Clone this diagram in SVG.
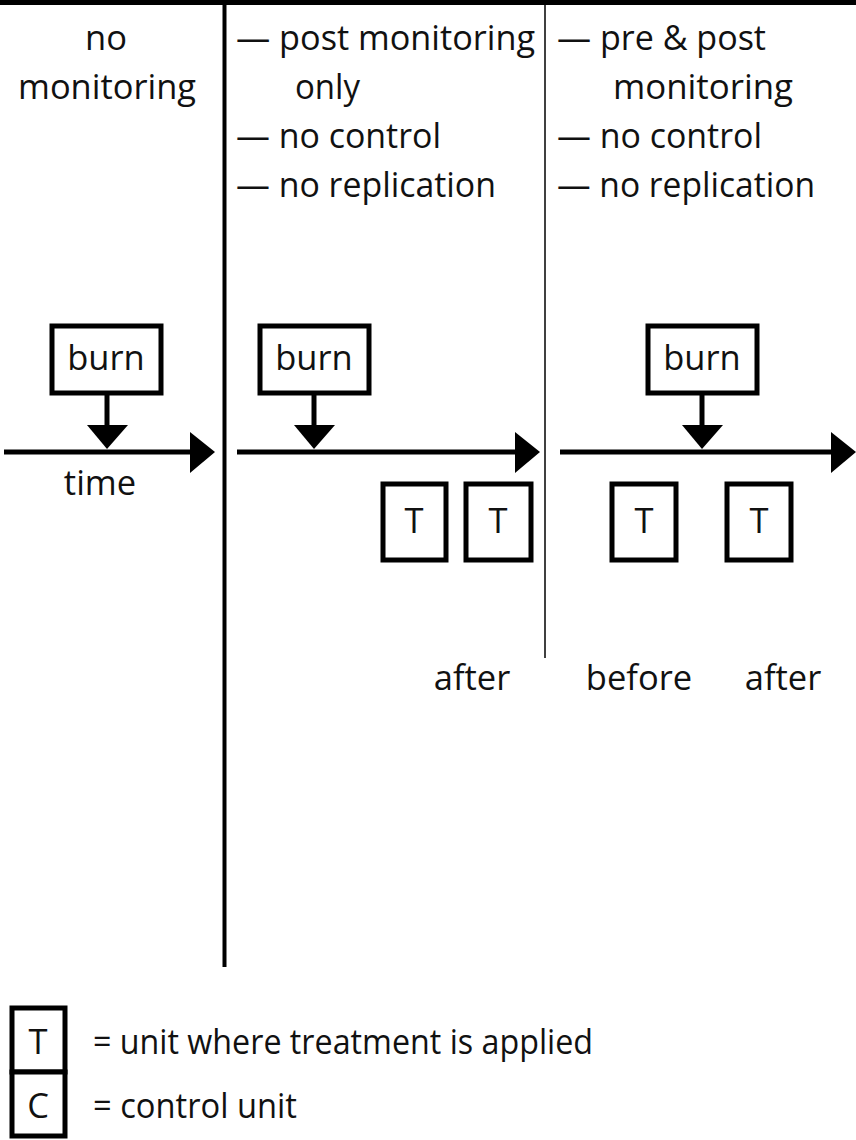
<svg xmlns="http://www.w3.org/2000/svg" width="856" height="1140" viewBox="0 0 856 1140">
  <style>
    .t { font-family: "Open Sans", "Liberation Sans", sans-serif; font-size: 34.5px; fill: #111; }
    .box { fill: #fff; stroke: #000; stroke-width: 5; }
    .axis { stroke: #000; stroke-width: 5; fill: none; }
    .head { fill: #000; }
  </style>
  <rect x="0" y="0" width="856" height="1140" fill="#fff"/>
  <!-- top rule and column dividers -->
  <rect x="0" y="0" width="856" height="5" fill="#000"/>
  <line x1="224.5" y1="0" x2="224.5" y2="967" stroke="#000" stroke-width="4"/>
  <line x1="545" y1="0" x2="545" y2="658" stroke="#000" stroke-width="1.5"/>

  <!-- column headings -->
  <g id="heading-1">
    <text class="t" x="106" y="50" text-anchor="middle">no</text>
    <text class="t" x="18" y="99" textLength="178" lengthAdjust="spacingAndGlyphs">monitoring</text>
  </g>
  <g id="heading-2">
    <text class="t" x="236" y="50" textLength="299" lengthAdjust="spacingAndGlyphs">— post monitoring</text>
    <text class="t" x="295" y="99" textLength="65" lengthAdjust="spacingAndGlyphs">only</text>
    <text class="t" x="236" y="148" textLength="205" lengthAdjust="spacingAndGlyphs">— no control</text>
    <text class="t" x="236" y="197" textLength="260" lengthAdjust="spacingAndGlyphs">— no replication</text>
  </g>
  <g id="heading-3">
    <text class="t" x="557" y="50" textLength="209" lengthAdjust="spacingAndGlyphs">— pre &amp; post</text>
    <text class="t" x="613" y="99" textLength="180" lengthAdjust="spacingAndGlyphs">monitoring</text>
    <text class="t" x="557" y="148" textLength="205" lengthAdjust="spacingAndGlyphs">— no control</text>
    <text class="t" x="557" y="197" textLength="258" lengthAdjust="spacingAndGlyphs">— no replication</text>
  </g>

  <!-- time axes and burn arrows -->
  <g id="connectors">
    <line class="axis" x1="4" y1="452" x2="192" y2="452"/>
    <polygon class="head" points="190,432 215,452 190,473"/>
    <line class="axis" x1="237" y1="452" x2="517" y2="452"/>
    <polygon class="head" points="515,432 540,452 515,473"/>
    <line class="axis" x1="560" y1="452" x2="833" y2="452"/>
    <polygon class="head" points="831,432 856,452 831,473"/>

    <line class="axis" x1="107" y1="394" x2="107" y2="428"/>
    <polygon class="head" points="87,425 128,425 107,449"/>
    <line class="axis" x1="314" y1="394" x2="314" y2="428"/>
    <polygon class="head" points="294,425 335,425 314,449"/>
    <line class="axis" x1="702" y1="394" x2="702" y2="428"/>
    <polygon class="head" points="682,425 723,425 702,449"/>
  </g>

  <g id="burn-1">
    <rect class="box" x="52" y="326" width="109" height="67"/>
    <text class="t" x="106" y="370" text-anchor="middle">burn</text>
  </g>
  <g id="burn-2">
    <rect class="box" x="260" y="326" width="109" height="67"/>
    <text class="t" x="314" y="370" text-anchor="middle">burn</text>
  </g>
  <g id="burn-3">
    <rect class="box" x="648" y="326" width="109" height="67"/>
    <text class="t" x="702" y="370" text-anchor="middle">burn</text>
  </g>

  <text class="t" x="100" y="495" text-anchor="middle">time</text>

  <g id="t-post-1">
    <rect class="box" x="383" y="484" width="63" height="76"/>
    <text class="t" x="414" y="533" text-anchor="middle">T</text>
  </g>
  <g id="t-post-2">
    <rect class="box" x="466" y="484" width="65" height="76"/>
    <text class="t" x="498" y="533" text-anchor="middle">T</text>
  </g>
  <g id="t-pre">
    <rect class="box" x="612" y="484" width="64" height="76"/>
    <text class="t" x="644" y="533" text-anchor="middle">T</text>
  </g>
  <g id="t-after">
    <rect class="box" x="727" y="484" width="64" height="76"/>
    <text class="t" x="759" y="533" text-anchor="middle">T</text>
  </g>

  <text class="t" x="472" y="690" text-anchor="middle">after</text>
  <text class="t" x="639" y="690" text-anchor="middle">before</text>
  <text class="t" x="783" y="690" text-anchor="middle">after</text>

  <!-- legend -->
  <g id="legend-t">
    <rect class="box" x="12" y="1008" width="53" height="64"/>
    <text class="t" x="38" y="1054" text-anchor="middle">T</text>
    <text class="t" x="93" y="1054" textLength="500" lengthAdjust="spacingAndGlyphs">= unit where treatment is applied</text>
  </g>
  <g id="legend-c">
    <rect class="box" x="12" y="1072" width="53" height="64"/>
    <text class="t" x="38" y="1118" text-anchor="middle">C</text>
    <text class="t" x="93" y="1118" textLength="204" lengthAdjust="spacingAndGlyphs">= control unit</text>
  </g>
</svg>
